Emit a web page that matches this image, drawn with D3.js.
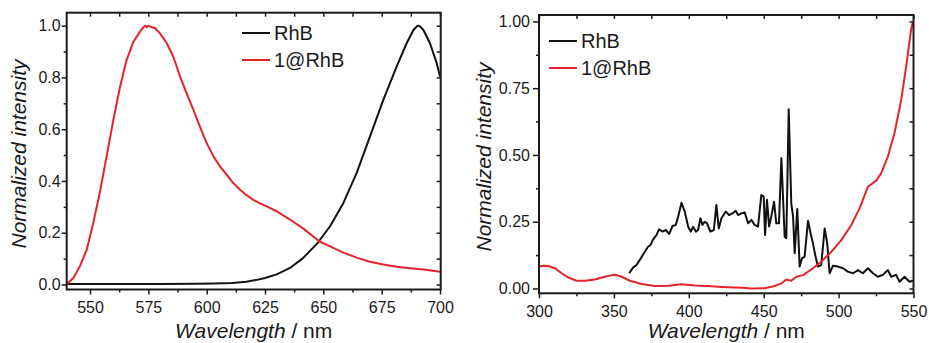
<!DOCTYPE html>
<html>
<head>
<meta charset="utf-8">
<script src="https://cdn.jsdelivr.net/npm/d3@7"></script>
<style>
  html, body { margin: 0; padding: 0; background: #fff; }
  svg { display: block; }
  text { font-family: "Liberation Sans", Arial, sans-serif; fill: #1a1a1a; }
</style>
</head>
<body>
<svg id="chart" width="929" height="343"></svg>
<script>
// ---------- DATA ----------
// Left panel: emission spectra [wavelength nm, normalized intensity]
const emRhB = [[540,0.002],[560,0.002],[580,0.002],[595,0.003],[603,0.004],[611,0.006],[617,0.011],[621,0.017],[625,0.025],[630,0.039],[635.7,0.064],[641.4,0.103],[647.1,0.156],[648.1,0.167],[652.9,0.225],[658.6,0.315],[664.3,0.431],[670,0.572],[675.7,0.713],[681.4,0.842],[685.7,0.932],[688.6,0.983],[690.2,0.998],[690.7,1.0],[691.5,0.996],[692.9,0.983],[695.7,0.932],[698.6,0.855],[700,0.803]];
const em1RhB = [[540,0.0],[542.9,0.026],[545.7,0.071],[548.6,0.135],[551.4,0.238],[554.3,0.36],[557.1,0.495],[560,0.636],[562.9,0.765],[565.7,0.868],[568.6,0.938],[571.4,0.977],[573,0.995],[573.6,1.0],[574.3,0.994],[575,1.0],[575.8,0.996],[577.9,0.99],[580,0.97],[582.9,0.932],[585.7,0.88],[588.6,0.803],[591.4,0.739],[594.3,0.675],[597.1,0.61],[600,0.546],[602.9,0.495],[605.7,0.456],[608.6,0.424],[611.4,0.392],[614.3,0.366],[617.1,0.345],[620,0.327],[622.5,0.315],[625,0.305],[627.5,0.294],[630,0.283],[635.7,0.251],[641.4,0.216],[647.1,0.176],[648.1,0.167],[652.9,0.147],[658.6,0.123],[664.3,0.104],[670,0.088],[675.7,0.077],[681.4,0.069],[687.1,0.063],[692.9,0.058],[700,0.049]];

// Right panel: excitation spectra
const exRhB = [[360.2,0.057],[362.9,0.079],[365.1,0.088],[367.3,0.107],[370,0.132],[372.9,0.157],[374.4,0.163],[376.2,0.184],[378.4,0.2],[380.2,0.222],[382.4,0.213],[384.7,0.219],[386.9,0.204],[389.1,0.234],[391.3,0.238],[392.9,0.269],[395.1,0.321],[397.3,0.288],[399.6,0.231],[401.3,0.213],[402.9,0.231],[404.7,0.213],[406.2,0.219],[407.8,0.263],[409.1,0.238],[410.7,0.25],[412.2,0.244],[414.4,0.213],[416.7,0.219],[418.4,0.313],[420,0.225],[421.8,0.263],[424.7,0.288],[426.9,0.275],[429.1,0.281],[431.3,0.291],[432.9,0.275],[435.1,0.281],[437.3,0.285],[439.6,0.244],[441.8,0.257],[444,0.238],[446.2,0.232],[448.4,0.35],[450,0.344],[450.9,0.2],[452.2,0.332],[453.6,0.232],[455.1,0.27],[456.9,0.325],[458.4,0.244],[460.2,0.244],[461.8,0.488],[464,0.194],[465.1,0.188],[466.7,0.671],[468.4,0.319],[469.6,0.27],[470.7,0.132],[472.4,0.298],[474,0.082],[475.6,0.113],[477.3,0.119],[479.6,0.254],[481.3,0.207],[482.9,0.169],[484.4,0.125],[486.2,0.082],[488.4,0.088],[490.7,0.225],[492.4,0.169],[494,0.057],[496.2,0.085],[499.6,0.082],[502.9,0.076],[506.2,0.063],[509.6,0.057],[512.9,0.069],[516.2,0.057],[519.6,0.076],[522.9,0.057],[526.2,0.044],[529.6,0.051],[532.9,0.069],[535.1,0.044],[538.4,0.051],[540.7,0.025],[544,0.044],[547.3,0.025],[549.6,0.029]];
const ex1RhB = [[300,0.082],[303,0.085],[306.2,0.084],[310.7,0.076],[315.1,0.057],[319.6,0.041],[325.1,0.029],[330.7,0.029],[337.3,0.034],[344,0.044],[349.6,0.051],[352,0.05],[355.1,0.044],[360.7,0.029],[368.4,0.017],[377.3,0.009],[386.2,0.01],[395.1,0.016],[404,0.011],[412.9,0.009],[421.8,0.006],[430.7,0.004],[436,0.003],[441.8,0.0],[450.7,0.001],[457.3,0.009],[461.8,0.019],[465.1,0.034],[468.4,0.029],[471.8,0.044],[476.2,0.05],[481.8,0.071],[488.4,0.1],[495.1,0.137],[501.8,0.181],[508.4,0.237],[514,0.3],[519.6,0.381],[525.1,0.404],[528.4,0.431],[532.9,0.494],[537.3,0.581],[541.8,0.706],[545.1,0.831],[548.4,0.97],[549.6,1.0]];

const seriesNames = ["RhB", "1@RhB"];
const seriesColors = ["#111111", "#e3242b"];

const leftXTicks = [550, 575, 600, 625, 650, 675, 700];
const leftXMinor = [562.5, 587.5, 612.5, 637.5, 662.5, 687.5];
const leftYTicks = [0.0, 0.2, 0.4, 0.6, 0.8, 1.0];
const leftYMinor = [0.1, 0.3, 0.5, 0.7, 0.9];

const rightXTicks = [300, 350, 400, 450, 500, 550];
const rightXMinor = [325, 375, 425, 475, 525];
const rightYTicks = [0.0, 0.25, 0.5, 0.75, 1.0];
const rightYMinor = [0.125, 0.375, 0.625, 0.875];

// ---------- DRAW ----------
const svg = d3.select("#chart");

function panel(opt) {
  const g = svg.append("g");
  const x = d3.scaleLinear().domain(opt.xDomain).range([opt.left, opt.right]);
  const y = d3.scaleLinear().domain(opt.yDomain).range([opt.bottom, opt.top]);
  const W = opt.right - opt.left, H = opt.bottom - opt.top;

  function styleAxis(sel) {
    sel.select(".domain").remove();
    sel.selectAll("line").attr("stroke", "#1a1a1a").attr("stroke-width", 1.5);
    sel.selectAll("text").style("font-size", "16px").attr("fill", "#1a1a1a");
  }
  // bottom major
  g.append("g").attr("transform", `translate(0,${opt.bottom})`)
    .call(d3.axisBottom(x).tickValues(opt.xTicks).tickSizeInner(5).tickSizeOuter(0).tickPadding(7).tickFormat(d3.format("d")))
    .call(styleAxis);
  g.append("g").attr("transform", `translate(0,${opt.bottom})`)
    .call(d3.axisBottom(x).tickValues(opt.xMinor).tickSize(3).tickFormat(""))
    .call(styleAxis);
  // top inward
  g.append("g").attr("transform", `translate(0,${opt.top})`)
    .call(d3.axisTop(x).tickValues(opt.xTicks.concat(opt.xMinor)).tickSize(-4).tickFormat(""))
    .call(styleAxis);
  // left major
  g.append("g").attr("transform", `translate(${opt.left},0)`)
    .call(d3.axisLeft(y).tickValues(opt.yTicks).tickSizeInner(opt.yTickLen).tickSizeOuter(0).tickPadding(opt.yPad).tickFormat(d3.format(opt.yFmt)))
    .call(styleAxis);
  g.append("g").attr("transform", `translate(${opt.left},0)`)
    .call(d3.axisLeft(y).tickValues(opt.yMinor).tickSize(3).tickFormat(""))
    .call(styleAxis);
  // right inward
  g.append("g").attr("transform", `translate(${opt.right},0)`)
    .call(d3.axisRight(y).tickValues(opt.yTicks.concat(opt.yMinor)).tickSize(-4).tickFormat(""))
    .call(styleAxis);

  // lines
  const line = d3.line().x(d => x(d[0])).y(d => y(d[1]));
  opt.series.forEach((s, i) => {
    g.append("path").datum(s).attr("d", line)
      .attr("fill", "none").attr("stroke", seriesColors[i])
      .attr("stroke-width", 2).attr("stroke-linejoin", "round");
  });

  // frame
  g.append("rect").attr("x", opt.left).attr("y", opt.top)
    .attr("width", W).attr("height", H)
    .attr("fill", "none").attr("stroke", "#1a1a1a").attr("stroke-width", 2);

  // legend
  seriesNames.forEach((n, i) => {
    const ly = opt.legY + i * 27;
    g.append("line").attr("x1", opt.legX).attr("x2", opt.legX + 28)
      .attr("y1", ly).attr("y2", ly)
      .attr("stroke", seriesColors[i]).attr("stroke-width", 2);
    g.append("text").attr("x", opt.legX + 32).attr("y", ly + 7)
      .style("font-size", "20px").text(n);
  });

  // x title
  const xt = g.append("text").attr("x", (opt.left + opt.right) / 2).attr("y", 338)
    .attr("text-anchor", "middle").style("font-size", "21px");
  xt.append("tspan").style("font-style", "italic").text("Wavelength");
  xt.append("tspan").text(" / nm");
  // y title
  g.append("text")
    .attr("transform", `translate(${opt.yTitleX},${opt.yTitleY}) rotate(-90)`)
    .attr("text-anchor", "middle").style("font-size", "21px").style("font-style", "italic")
    .text("Normalized intensity");
}

panel({
  left: 66.7, right: 440.7, top: 12.7, bottom: 289.5,
  xDomain: [540, 700.3], yDomain: [-0.0193, 1.05],
  xTicks: leftXTicks, xMinor: leftXMinor, yTicks: leftYTicks, yMinor: leftYMinor,
  yFmt: ".1f", yTickLen: 5, yPad: 1,
  series: [emRhB, em1RhB],
  legX: 242, legY: 33,
  yTitleX: 26, yTitleY: 154
});

panel({
  left: 539, right: 913.5, top: 15, bottom: 293.3,
  xDomain: [300, 550], yDomain: [-0.018, 1.024],
  xTicks: rightXTicks, xMinor: rightXMinor, yTicks: rightYTicks, yMinor: rightYMinor,
  yFmt: ".2f", yTickLen: 6, yPad: 3,
  series: [exRhB, ex1RhB],
  legX: 549, legY: 41,
  yTitleX: 491, yTitleY: 157
});
</script>
</body>
</html>
